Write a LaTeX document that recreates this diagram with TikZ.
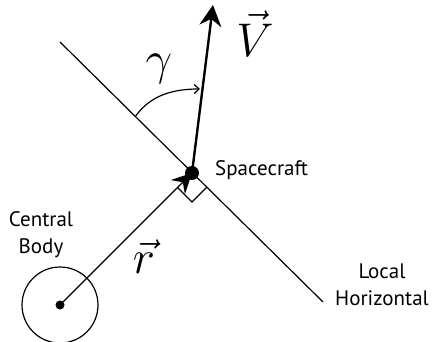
\documentclass[tikz,border=0pt]{standalone}
\usepackage{graphicx}
\usepackage{fontspec}
\newfontfamily\labfont{PT Sans}
\usetikzlibrary{arrows.meta,calc}
\newcommand{\bigmath}[1]{\scalebox{1.9}{\Huge$#1$}}
\tikzset{
  thinline/.style={line width=1.2pt},
  vecline/.style={line width=2.4pt},
  bigarrow/.style={-{Stealth[length=21pt,width=22pt,inset=7pt]}},
  lab/.style={font=\labfont\fontsize{21}{27}\selectfont, align=center, inner sep=0pt}
}
\begin{document}
\begin{tikzpicture}[x=1pt,y=-1pt]
\useasboundingbox (0,0) rectangle (434,342);
\fill[white] (0,0) rectangle (434,342);
% points
\coordinate (C) at (60,305);
\coordinate (S) at (192,173);
\coordinate (H1) at (60,42);
\coordinate (H2) at (323,302);
\coordinate (Vt) at (213,5);
\coordinate (G1) at (135,117);
\coordinate (G2) at (200,89);
% central body
\node[draw, circle, thinline, minimum size=76pt, inner sep=0pt] (body) at (C) {};
\fill (C) circle (4.5pt);
% local horizontal
\draw[thinline] (H1) -- (H2);
% right angle marker
\coordinate (ra1) at ($(S)+(-14.5,14.5)$);
\coordinate (ra2) at ($(S)+(0,29)$);
\coordinate (ra3) at ($(S)+(14.5,14.5)$);
\draw[thinline] (ra1) -- (ra2) -- (ra3);
% r vector
\draw[thinline, -{Stealth[length=20pt,width=20pt,inset=7pt]}] (C) -- (S);
% V vector
\draw[vecline, bigarrow] (S) -- (Vt);
% spacecraft dot
\fill (S) circle (7pt);
% gamma arc
\draw[thinline, -{Straight Barb[length=5pt,width=9pt]}] (G1) .. controls (147,100) and (165,89) .. (G2);
% labels
\node[inner sep=0pt] (gam) at (159,69) {\bigmath{\gamma}};
\node[inner sep=0pt] (vlab) at (255,34) {\bigmath{\vec{V}}};
\node[inner sep=0pt] (rlab) at (144,257) {\bigmath{\vec{r}}};
\node[lab, anchor=base west] (sc) at (215,176) {Spacecraft};
\node[lab, anchor=base] (cb) at (41,253) {Central\\Body};
\node[lab, anchor=base] (lh) at (382,305) {Local\\Horizontal};
\end{tikzpicture}
\end{document}
